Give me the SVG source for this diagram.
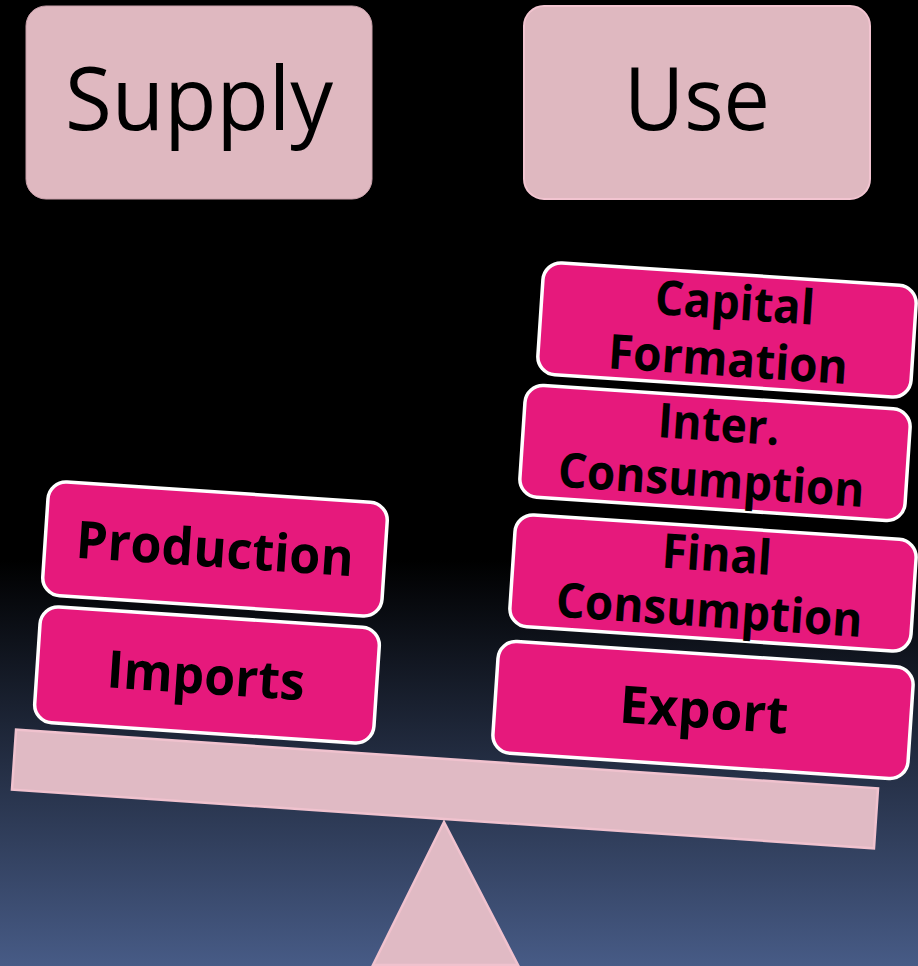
<svg xmlns="http://www.w3.org/2000/svg" width="918" height="966" viewBox="0 0 918 966">
<defs>
<linearGradient id="bg" x1="0" y1="0" x2="0" y2="1">
<stop offset="0" stop-color="#000000"/>
<stop offset="0.58" stop-color="#000000"/>
<stop offset="1" stop-color="#475b86"/>
</linearGradient>
<style>
.hdr{fill:#dfb8c0;}
.hdrt{font-family:"Open Sans","DejaVu Sans",sans-serif;font-size:88px;fill:#000;text-anchor:middle;}
.blk{fill:#e6197c;stroke:#ffffff;stroke-width:3.5;}
.bt{font-family:"Open Sans","Noto Sans",sans-serif;font-weight:bold;fill:#000;text-anchor:middle;}
.b1{font-size:52px;}
.b2{font-size:48px;}
.scale{fill:#e0bac4;stroke:#f0c2ce;stroke-width:2.5;}
</style>
</defs>
<rect x="0" y="0" width="918" height="966" fill="url(#bg)"/>

<g id="supply">
<rect class="hdr" x="26" y="6" width="346" height="193" rx="20" stroke="#c9a0aa" stroke-width="1"/>
<text class="hdrt" x="199" y="130" textLength="268" lengthAdjust="spacingAndGlyphs">Supply</text>
</g>
<g id="use">
<rect class="hdr" x="524" y="6" width="346" height="193" rx="20" stroke="#f2c4d0" stroke-width="2"/>
<text class="hdrt" x="697" y="130" textLength="146" lengthAdjust="spacingAndGlyphs">Use</text>
</g>

<g id="fulcrum">
<polygon class="scale" points="444,822 518,965 373,965"/>
</g>
<g id="beam">
<rect class="scale" x="-432" y="-30" width="864" height="60" transform="translate(445,789) rotate(3.9)"/>
</g>

<g id="production" transform="translate(215,549) rotate(3.8)">
<rect class="blk" x="-170" y="-57" width="340" height="114" rx="18"/>
<text class="bt b1" x="0" y="18" textLength="278" lengthAdjust="spacingAndGlyphs">Production</text>
</g>
<g id="imports" transform="translate(207,675) rotate(3.8)">
<rect class="blk" x="-170" y="-58" width="340" height="116" rx="18"/>
<text class="bt b1" x="-1" y="19" textLength="198" lengthAdjust="spacingAndGlyphs">Imports</text>
</g>

<g id="capital" transform="translate(727,330) rotate(3.8)">
<rect class="blk" x="-187" y="-56" width="374" height="112" rx="18"/>
<text class="bt b2" x="6" y="-11" textLength="160" lengthAdjust="spacingAndGlyphs">Capital</text>
<text class="bt b2" x="3" y="46" textLength="240" lengthAdjust="spacingAndGlyphs">Formation</text>
</g>
<g id="inter" transform="translate(715,453) rotate(3.8)">
<rect class="blk" x="-193" y="-56" width="386" height="112" rx="18"/>
<text class="bt b2" x="2" y="-12" textLength="122" lengthAdjust="spacingAndGlyphs">Inter.</text>
<text class="bt b2" x="-2" y="44" textLength="307" lengthAdjust="spacingAndGlyphs">Consumption</text>
</g>
<g id="final" transform="translate(713,583) rotate(3.8)">
<rect class="blk" x="-201" y="-56" width="402" height="112" rx="18"/>
<text class="bt b2" x="2" y="-12" textLength="110" lengthAdjust="spacingAndGlyphs">Final</text>
<text class="bt b2" x="-2" y="44" textLength="307" lengthAdjust="spacingAndGlyphs">Consumption</text>
</g>
<g id="export" transform="translate(703,710) rotate(3.8)">
<rect class="blk" x="-208" y="-56" width="416" height="112" rx="18"/>
<text class="bt b1" x="1" y="18" textLength="169" lengthAdjust="spacingAndGlyphs">Export</text>
</g>
<g id="connectors"/>
</svg>
